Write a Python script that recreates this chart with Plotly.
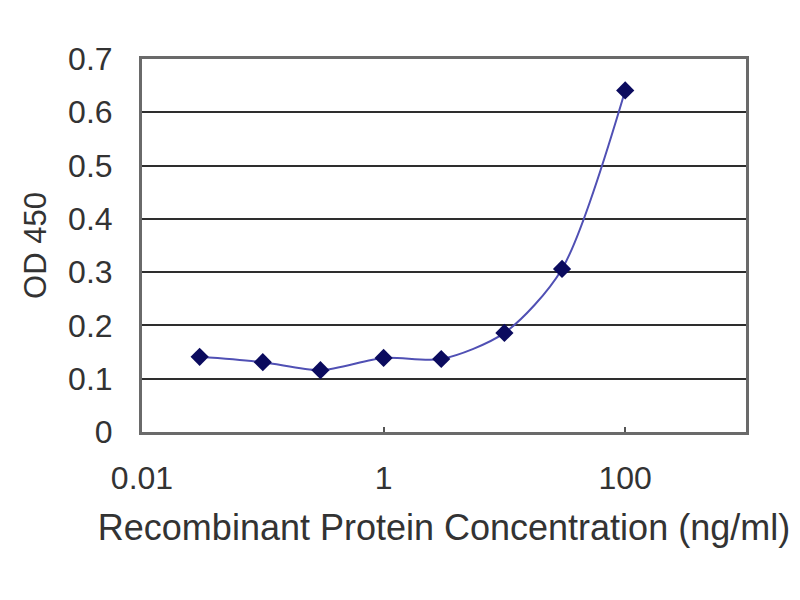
import plotly.graph_objects as go

# ELISA standard curve
concentration = [0.03, 0.1, 0.3, 1, 3, 10, 30, 100]
od450 = [0.141, 0.131, 0.116, 0.139, 0.137, 0.186, 0.306, 0.641]

x_tickvals = [0.01, 1, 100]
x_ticktext = ["0.01", "1", "100"]
y_tickvals = [0, 0.1, 0.2, 0.3, 0.4, 0.5, 0.6, 0.7]
y_ticktext = ["0", "0.1", "0.2", "0.3", "0.4", "0.5", "0.6", "0.7"]

font = "Liberation Sans, Arial, sans-serif"
text_col = "#333"

fig = go.Figure()
fig.add_trace(go.Scatter(
    x=concentration, y=od450,
    mode="lines+markers",
    line=dict(color="#5050b4", width=2, shape="spline", smoothing=0.8),
    marker=dict(symbol="diamond", size=14, color="#0b0b5e"),
    showlegend=False,
))

fig.update_xaxes(
    type="log", range=[-2, 3],
    tickvals=x_tickvals, ticktext=x_ticktext,
    ticks="inside", ticklen=5, tickcolor="#555", tickwidth=2,
    showgrid=False, zeroline=False,
    showline=True, linecolor="#6a6a6a", linewidth=3, mirror=True,
    ticklabelstandoff=16,
    tickfont=dict(family=font, size=32, color=text_col),
    title=dict(text="Recombinant Protein Concentration (ng/ml)",
               font=dict(family=font, size=36, color=text_col), standoff=20),
)
fig.update_yaxes(
    range=[0, 0.7],
    tickvals=y_tickvals, ticktext=y_ticktext,
    ticks="", showgrid=True, gridcolor="#2e2e2e", gridwidth=2,
    zeroline=False,
    showline=True, linecolor="#6a6a6a", linewidth=3, mirror=True,
    ticklabelstandoff=20,
    tickfont=dict(family=font, size=32, color=text_col),
    title=dict(text="OD 450", font=dict(family=font, size=31, color=text_col),
               standoff=13),
)

fig.update_layout(
    width=800, height=600,
    margin=dict(l=134, r=62, t=51, b=176),
    paper_bgcolor="white", plot_bgcolor="white",
)

fig.write_html("out.html")
